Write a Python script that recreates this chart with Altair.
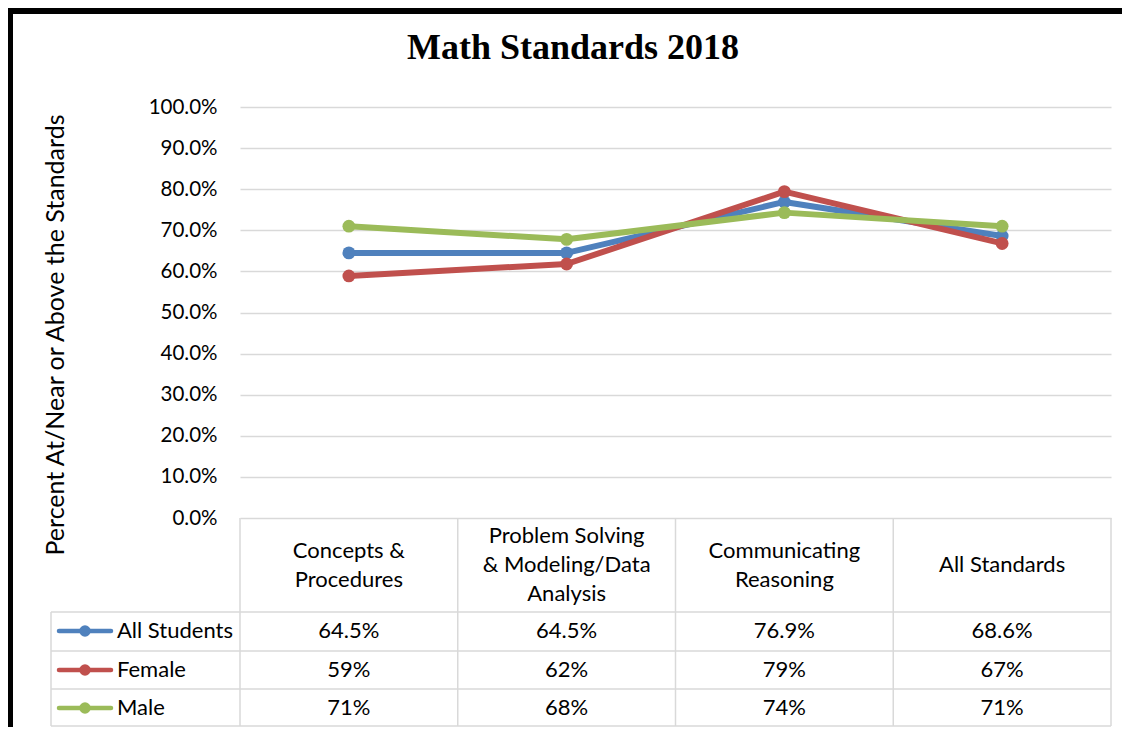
import altair as alt
import pandas as pd

# ---------------- data ----------------
categories = [
    "Concepts & Procedures",
    "Problem Solving & Modeling/Data Analysis",
    "Communicating Reasoning",
    "All Standards",
]
header_labels = [
    "Concepts &\nProcedures",
    "Problem Solving\n& Modeling/Data\nAnalysis",
    "Communicating\nReasoning",
    "All Standards",
]
series_names = ["All Students", "Female", "Male"]
series_colors = ["#4F81BD", "#C0504D", "#9BBB59"]
all_students = [0.645, 0.645, 0.769, 0.686]
female = [0.589, 0.618, 0.794, 0.668]
male = [0.710, 0.678, 0.743, 0.710]
label_decimals = [1, 0, 0]
y_ticks = [0.0, 0.1, 0.2, 0.3, 0.4, 0.5, 0.6, 0.7, 0.8, 0.9, 1.0]
title_text = "Math Standards 2018"
y_title = "Percent At/Near or Above the Standards"

# ---------------- layout ----------------
W, H = 871, 411
FONT = "Lato"
GRID = "#d9d9d9"
row_y = [524, 563, 601]
HEADER_MID = 458
LINE_H = 29

rows = []
for s, vals, dec in zip(series_names, [all_students, female, male], label_decimals):
    for c, v in zip(categories, vals):
        rows.append({"series": s, "category": c, "value": v,
                     "label": f"{v * 100:.{dec}f}%"})
df = pd.DataFrame(rows)
header_df = pd.DataFrame({"category": categories, "header": header_labels})

x_scale = alt.Scale(type="band", domain=categories, paddingInner=0, paddingOuter=0)
x_mid = alt.X("category:N", sort=categories, scale=x_scale, axis=None,
              bandPosition=0.5)
x_edge = alt.X("category:N", sort=categories, scale=x_scale, axis=None,
               bandPosition=0)
y_enc = alt.Y("value:Q", scale=alt.Scale(domain=[0, 1]),
              axis=alt.Axis(values=y_ticks, format=".1%", grid=True,
                            gridColor=GRID, gridWidth=1.5, domain=False,
                            ticks=False, tickSize=0, labelPadding=23,
                            labelFont=FONT, labelFontSize=20.5,
                            labelColor="black", title=None))

layers = []
base = alt.Chart(df)

# table grid lines
one = alt.Chart(pd.DataFrame({"k": [0]}))
for yy in [505, 544, 582, 619]:
    layers.append(one.mark_rule(color=GRID, strokeWidth=1.5).encode(
        x=alt.value(-189), x2=alt.value(W), y=alt.value(yy)))
layers.append(one.mark_rule(color=GRID, strokeWidth=1.5).encode(
    x=alt.value(-189), y=alt.value(505), y2=alt.value(619)))
layers.append(one.mark_rule(color=GRID, strokeWidth=1.5).encode(
    x=alt.value(W), y=alt.value(H), y2=alt.value(619)))
layers.append(alt.Chart(header_df).mark_rule(color=GRID, strokeWidth=1.5).encode(
    x=x_edge, y=alt.value(H), y2=alt.value(619)))

# series lines + markers
for s, col in zip(series_names, series_colors):
    sel = base.transform_filter(alt.datum.series == s)
    layers.append(sel.mark_line(strokeWidth=6, color=col, strokeCap="round",
                                strokeJoin="round").encode(x=x_mid, y=y_enc))
    layers.append(sel.mark_point(filled=True, size=165, opacity=1, color=col)
                  .encode(x=x_mid, y=y_enc))

# header labels (each block vertically centred in the header row)
for c, h in zip(categories, header_labels):
    n = h.count("\n") + 1
    layers.append(alt.Chart(header_df).transform_filter(
        alt.datum.category == c).mark_text(
        font=FONT, fontSize=22, lineBreak="\n", lineHeight=LINE_H,
        align="center", baseline="middle", color="black").encode(
        x=x_mid, y=alt.value(HEADER_MID - (n - 1) * LINE_H / 2),
        text="header:N"))

# table values + legend keys
for s, col, ry in zip(series_names, series_colors, row_y):
    sel = base.transform_filter(alt.datum.series == s)
    layers.append(sel.mark_text(font=FONT, fontSize=22, align="center",
                                baseline="middle", color="black").encode(
        x=x_mid, y=alt.value(ry), text="label:N"))
    key = alt.Chart(pd.DataFrame({"series": [s]}))
    layers.append(key.mark_rule(color=col, strokeWidth=4.5, strokeCap="round").encode(
        x=alt.value(-181), x2=alt.value(-129), y=alt.value(ry)))
    layers.append(key.mark_point(filled=True, size=130, opacity=1, color=col).encode(
        x=alt.value(-155), y=alt.value(ry)))
    layers.append(key.mark_text(font=FONT, fontSize=22, align="left",
                                baseline="middle", color="black").encode(
        x=alt.value(-123), y=alt.value(ry), text="series:N"))

# title and y title
layers.append(alt.Chart(pd.DataFrame({"t": [title_text]})).mark_text(
    font="Liberation Serif", fontWeight="bold", fontSize=36, align="center",
    baseline="alphabetic", color="black").encode(
    x=alt.value(333), y=alt.value(-48), text="t:N"))
layers.append(alt.Chart(pd.DataFrame({"t": [y_title]})).mark_text(
    font=FONT, fontSize=25, angle=270, align="center", baseline="middle",
    color="black").encode(x=alt.value(-184), y=alt.value(228), text="t:N"))

# black frame
layers.append(one.mark_rect(color="black").encode(
    x=alt.value(-232), x2=alt.value(W + 11), y=alt.value(-99), y2=alt.value(-93)))
layers.append(one.mark_rect(color="black").encode(
    x=alt.value(-232), x2=alt.value(-227), y=alt.value(-99), y2=alt.value(620)))

chart = alt.layer(*layers).properties(
    width=W, height=H,
    padding={"left": 232, "top": 99, "right": 11, "bottom": 209},
    autosize=alt.AutoSizeParams(type="none"),
    background="white",
).configure_view(strokeWidth=0)

chart.save("out.html", embed_options={"renderer": "svg", "actions": False})
